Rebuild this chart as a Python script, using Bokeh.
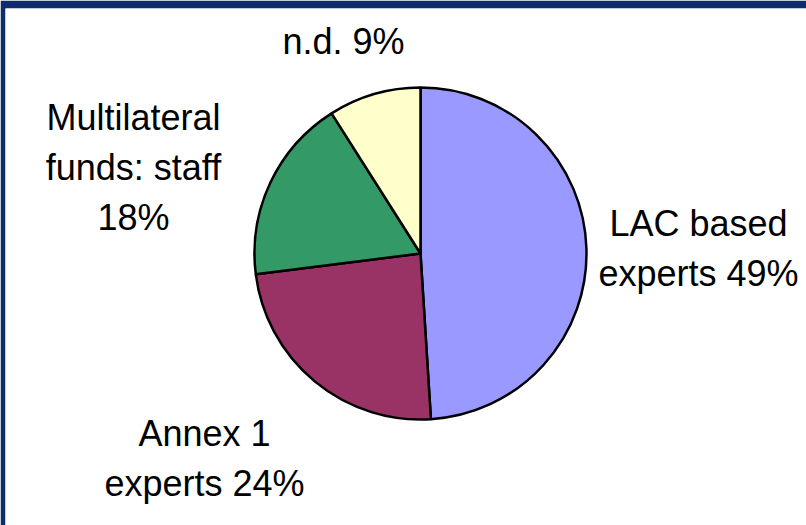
import numpy as np
from bokeh.plotting import figure
from bokeh.models import Range1d, ColumnDataSource
from bokeh.core.properties import value
from bokeh.embed import file_html
from bokeh.resources import INLINE

# ---- data ----
categories = ["LAC based experts", "Annex 1 experts", "Multilateral funds: staff", "n.d."]
shares = [49, 24, 18, 9]
colors = ["#9999FF", "#993366", "#339966", "#FFFFCC"]
label_lines = [
    ["LAC based", "experts 49%"],
    ["Annex 1", "experts 24%"],
    ["Multilateral", "funds: staff", "18%"],
    ["n.d. 9%"],
]

# ---- layout (pixel-like data units) ----
W, H = 806, 525
LEFT, TOP = 5, 8
cx, cy, r = 415, 272, 166
label_anchor = [(693, 302), (199, 92), (128, 408), (338, 484)]
line_step = 50

p = figure(width=W, height=H, output_backend="svg", toolbar_location=None,
           x_range=Range1d(0, W - LEFT), y_range=Range1d(0, H - TOP),
           min_border_left=LEFT, min_border_top=TOP, min_border_right=0, min_border_bottom=0)
p.axis.visible = False
p.grid.visible = False
p.outline_line_color = None
p.background_fill_color = "white"
p.border_fill_color = "#0e2b6e"

vals = np.array(shares, dtype=float)
frac = vals / vals.sum()
cum = np.concatenate([[0], np.cumsum(frac)])
start = np.pi / 2 - cum[1:] * 2 * np.pi
end = np.pi / 2 - cum[:-1] * 2 * np.pi

src = ColumnDataSource(dict(x=[cx] * len(shares), y=[cy] * len(shares),
                            start=start, end=end, color=colors, cat=categories))
p.wedge(x="x", y="y", radius=r, start_angle="start", end_angle="end",
        fill_color="color", line_color="black", line_width=2.5, source=src)

tx, ty, tt = [], [], []
for lines, (ax, ay) in zip(label_lines, label_anchor):
    for i, s in enumerate(lines):
        tx.append(ax)
        ty.append(ay - i * line_step)
        tt.append(s)
p.text(x=tx, y=ty, text=tt, text_align="center", text_baseline="alphabetic",
       text_font=value("Liberation Sans"), text_font_size="36px", text_color="black")

open("out.html", "w").write(file_html(p, INLINE))
